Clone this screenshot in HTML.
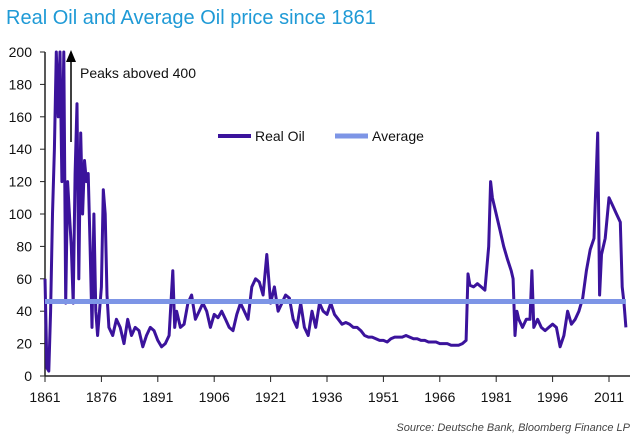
<!DOCTYPE html>
<html><head><meta charset="utf-8"><style>
body{margin:0;background:#fff;width:640px;height:440px;overflow:hidden;font-family:"Liberation Sans",sans-serif}
</style></head><body>
<svg id="chart" width="640" height="440" xmlns="http://www.w3.org/2000/svg" font-family="Liberation Sans, sans-serif">
<text x="6" y="24" font-size="20" fill="#1f9ad6">Real Oil and Average Oil price since 1861</text>
<g id="axes"></g>
<g id="plot"></g>
<g>
<line x1="71" y1="142" x2="71" y2="60" stroke="#000" stroke-width="1.5"/>
<polygon points="66,62 76,62 71,50" fill="#000"/>
<text x="80" y="78" font-size="14" fill="#111">Peaks aboved 400</text>
</g>
<g>
<line x1="218" y1="136" x2="251" y2="136" stroke="#3b139c" stroke-width="4"/>
<text x="255" y="141" font-size="14" fill="#111">Real Oil</text>
<line x1="335" y1="136" x2="368" y2="136" stroke="#7d95e6" stroke-width="5"/>
<text x="372" y="141" font-size="14" fill="#111">Average</text>
</g>
<text x="630" y="431" font-size="11" font-style="italic" fill="#444" text-anchor="end">Source: Deutsche Bank, Bloomberg Finance LP</text>
</svg>
<script>
const years=[1861,1861.5,1862,1862.5,1863,1863.5,1864,1864.5,1865,1865.5,1866,1866.5,1867,1867.5,1868,1868.5,1869,1869.5,1870,1870.5,1871,1871.5,1872,1872.5,1873,1873.5,1874,1874.5,1875,1876,1876.5,1877,1877.5,1878,1879,1880,1881,1882,1883,1884,1885,1886,1887,1888,1889,1890,1891,1892,1893,1894,1895,1895.5,1896,1897,1898,1899,1900,1901,1902,1903,1904,1905,1906,1907,1908,1909,1910,1911,1912,1913,1914,1915,1916,1917,1918,1919,1920,1920.5,1921,1922,1923,1924,1925,1926,1927,1928,1929,1930,1931,1932,1933,1934,1935,1936,1937,1938,1939,1940,1941,1942,1943,1944,1945,1946,1947,1948,1949,1950,1951,1952,1953,1954,1955,1956,1957,1958,1959,1960,1961,1962,1963,1964,1965,1966,1967,1968,1969,1970,1971,1972,1973,1973.5,1974,1975,1976,1977,1978,1979,1979.5,1980,1981,1982,1983,1984,1985,1985.5,1986,1986.5,1987,1988,1989,1990,1990.5,1991,1992,1993,1994,1995,1996,1997,1998,1999,2000,2001,2002,2003,2004,2005,2006,2007,2008,2008.5,2009,2010,2011,2012,2013,2014,2014.5,2015,2015.5];
const realOil=[60,5,3,40,100,140,200,160,200,120,200,45,120,100,80,45,125,168,60,150,100,133,120,125,80,30,100,40,25,55,115,100,50,30,25,35,30,20,35,25,30,28,18,25,30,28,22,18,20,25,65,30,40,30,32,45,50,35,40,45,40,30,38,36,40,35,30,28,38,45,40,35,55,60,58,50,75,60,45,55,40,45,50,48,35,30,45,30,25,40,30,45,40,38,45,38,35,32,33,32,30,30,28,25,24,24,23,22,22,21,23,24,24,24,25,24,23,23,22,22,21,21,21,20,20,20,19,19,19,20,22,63,56,55,57,55,53,80,120,110,100,90,80,72,65,60,25,40,35,30,35,35,65,30,35,30,28,30,32,30,18,25,40,32,35,40,48,65,78,85,150,50,75,85,110,105,100,95,55,45,30];
const averageValue=[46];
const yTicks=[0,20,40,60,80,100,120,140,160,180,200];
const xTicks=[1861,1876,1891,1906,1921,1936,1951,1966,1981,1996,2011];
const NS="http://www.w3.org/2000/svg";
const X=y=>45+(y-1861)*3.76;
const Y=v=>376-Math.min(v,200)*1.62;
const axes=document.getElementById('axes'),plot=document.getElementById('plot');
function mk(t,a,p){const e=document.createElementNS(NS,t);for(const k in a)e.setAttribute(k,a[k]);p.appendChild(e);return e;}
let e=mk('line',{x1:45,y1:52,x2:45,y2:376,stroke:'#222','stroke-width':1.5},axes);


e=mk('line',{x1:45,y1:376,x2:630,y2:376,stroke:'#222','stroke-width':1.5},axes);


yTicks.forEach(v=>{
 mk('line',{x1:40,x2:45,y1:Y(v),y2:Y(v),stroke:'#222'},axes);
 const t=mk('text',{x:32,y:Y(v)+5,'font-size':14,'text-anchor':'end',fill:'#111'},axes);t.textContent=v;
 
 
});
xTicks.forEach(v=>{
 mk('line',{x1:X(v),x2:X(v),y1:376,y2:382,stroke:'#222'},axes);
 const t=mk('text',{x:X(v),y:402,'font-size':14,'text-anchor':'middle',fill:'#111'},axes);t.textContent=v;
 
 
});
let d=years.map((y,i)=>(i?'L':'M')+X(y).toFixed(1)+','+Y(realOil[i]).toFixed(1)).join('');
e=mk('path',{d:d,fill:'none',stroke:'#3b139c','stroke-width':3,'stroke-linejoin':'round'},plot);


e=mk('line',{x1:45,x2:X(2015.5),y1:Y(averageValue[0]),y2:Y(averageValue[0]),stroke:'#7d95e6','stroke-width':5},plot);


</script>
</body></html>
